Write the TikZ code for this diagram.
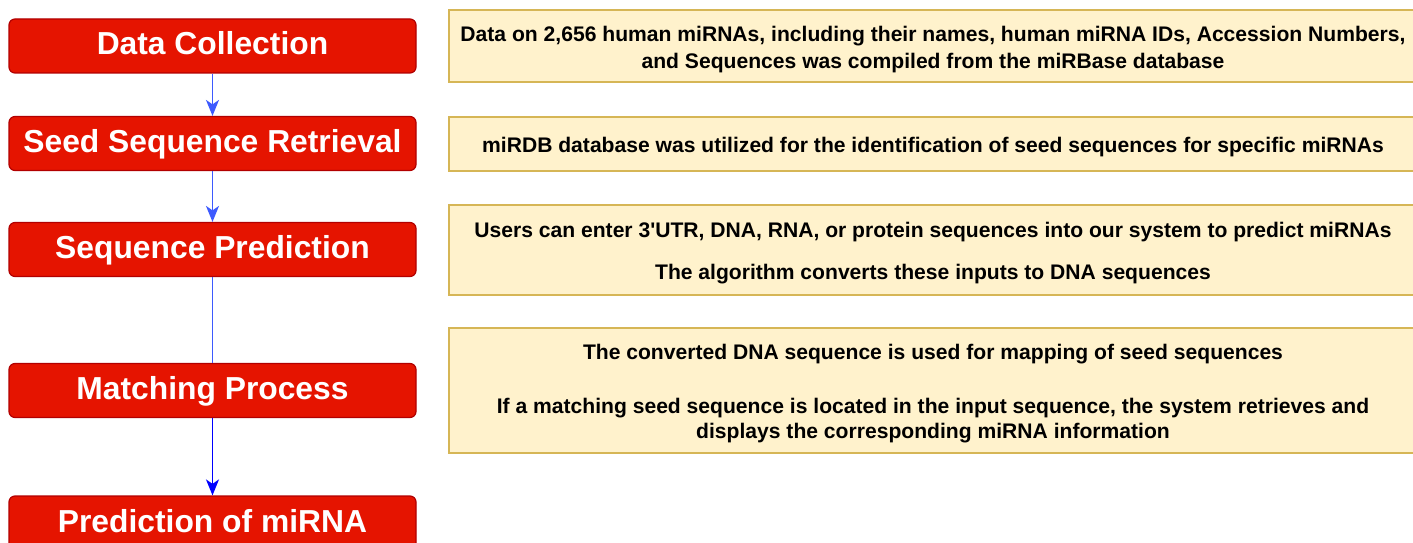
\documentclass[tikz,border=0pt]{standalone}
\usepackage{fontspec}
\setmainfont{Liberation Sans}[Ligatures=TeXOff]
\usetikzlibrary{arrows.meta}
\definecolor{stepred}{HTML}{E51400}
\definecolor{stepredline}{HTML}{B20000}
\definecolor{notefill}{HTML}{FFF2CC}
\definecolor{noteline}{HTML}{D6B656}
\definecolor{flowblue}{HTML}{3D5AFE}
\definecolor{flowbluedark}{HTML}{0000FF}
\begin{document}
\begin{tikzpicture}[x=1pt,y=-1pt,
  stepbox/.style={draw=stepredline, fill=stepred, line width=1.2pt, rounded corners=6pt,
    minimum width=407pt, minimum height=54pt, inner sep=0pt, text=white,
    font=\fontsize{31.8}{36}\selectfont\bfseries, text height=23pt, text depth=5pt},
  notebox/.style={draw=noteline, fill=notefill, line width=1.5pt, inner sep=0pt, minimum width=969pt},
  notetext/.style={anchor=base, inner sep=0pt, font=\fontsize{21.1}{24}\selectfont\bfseries},
  flow/.style={draw=flowblue, line width=1.7pt},
  tipped/.style={-{Stealth[length=16pt,width=13pt,inset=4.5pt]}}
]
\clip (0,0) rectangle (1413,543);
\fill[white] (0,0) rectangle (1413,543);

% left process steps
\node[stepbox] (s1) at (212.5,46) {Data Collection};
\node[stepbox] (s2) at (212.5,143.5) {Seed Sequence Retrieval};
\node[stepbox] (s3) at (212.5,249.5) {Sequence Prediction};
\node[stepbox] (s4) at (212.5,390.5) {Matching Process};
\node[stepbox] (s5) at (212.5,523) {Prediction of miRNA};

% connectors
\draw[flow,tipped] (s1.south) -- (s2.north);
\draw[flow,tipped] (s2.south) -- (s3.north);
\draw[flow] (s3.south) -- (s4.north);
\draw[flow,tipped,draw=flowbluedark] (s4.south) -- (s5.north);

% right notes
\node[notebox, minimum height=72pt] (n1) at (933.5,46) {};
\node[notebox, minimum height=54pt] (n2) at (933.5,144) {};
\node[notebox, minimum height=90pt] (n3) at (933.5,250) {};
\node[notebox, minimum height=125pt] (n4) at (933.5,390.5) {};

\node[notetext] (t1a) at (933,42) {Data on 2,656 human miRNAs, including their names, human miRNA IDs, Accession Numbers,};
\node[notetext] (t1b) at (933,68) {and Sequences was compiled from the miRBase database};
\node[notetext] (t2a) at (933,152) {miRDB database was utilized for the identification of seed sequences for specific miRNAs};
\node[notetext] (t3a) at (933,237) {Users can enter 3'UTR, DNA, RNA, or protein sequences into our system to predict miRNAs};
\node[notetext] (t3b) at (933,279) {The algorithm converts these inputs to DNA sequences};
\node[notetext] (t4a) at (933,359) {The converted DNA sequence is used for mapping of seed sequences};
\node[notetext] (t4b) at (933,413) {If a matching seed sequence is located in the input sequence, the system retrieves and};
\node[notetext] (t4c) at (933,438) {displays the corresponding miRNA information};
\end{tikzpicture}
\end{document}
